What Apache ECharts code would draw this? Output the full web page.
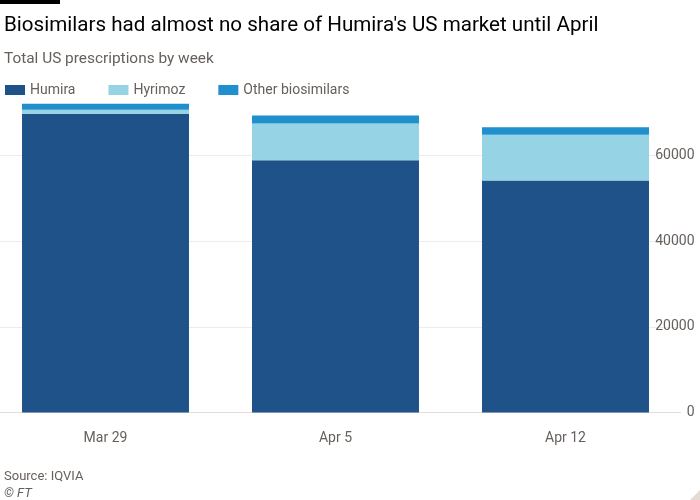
<!DOCTYPE html>
<html><head><meta charset="utf-8">
<script src="https://cdn.jsdelivr.net/npm/echarts@6/dist/echarts.min.js"></script>
<style>html,body{margin:0;padding:0;background:#fff}#c{width:700px;height:500px}</style>
</head><body><div id="c"></div>
<script>
const categories = ['Mar 29', 'Apr 5', 'Apr 12'];
const humira = [69800, 58900, 54200];
const hyrimoz = [900, 8600, 10650];
const otherBiosimilars = [1400, 1900, 1800];
const yTicks = [0, 20000, 40000, 60000];

const FONT = 'Roboto, "Open Sans", sans-serif';
const chart = echarts.init(document.getElementById('c'), null, {renderer: 'canvas'});
const colors = ['#1f5289', '#96d3e5', '#1f8fce'];
chart.setOption({
  animation: false,
  backgroundColor: '#fff',
  textStyle: {fontFamily: FONT},
  title: [
    {text: "Biosimilars had almost no share of Humira's US market until April", left: -1, top: 10,
     textStyle: {fontSize: 20.6, fontWeight: 'normal', color: '#000', fontFamily: FONT}},
    {text: 'Total US prescriptions by week', left: -1, top: 47,
     textStyle: {fontSize: 15.4, fontWeight: 'normal', color: '#66605c', fontFamily: FONT}},
    {text: 'Source: IQVIA', left: -1, top: 465,
     textStyle: {fontSize: 13, fontWeight: 'normal', color: '#66605c', fontFamily: FONT}},
    {text: '© FT', left: -1, top: 482,
     textStyle: {fontSize: 13, fontWeight: 'normal', fontStyle: 'italic', color: '#66605c', fontFamily: FONT}}
  ],
  legend: {
    left: 0, top: 78, itemWidth: 20, itemHeight: 10, itemGap: 33, icon: 'rect',
    textStyle: {fontSize: 14, color: '#66605c', fontFamily: FONT},
    data: ['Humira', 'Hyrimoz', 'Other biosimilars']
  },
  graphic: [
    {type: 'rect', shape: {x: 0, y: 0, width: 60, height: 4}, style: {fill: '#000'}},
    {type: 'polygon', shape: {points: [[700, 490], [700, 500], [690, 500]]}, style: {fill: '#e3dcd5'}}
  ],
  grid: {left: -9.5, width: 690, top: 70, height: 342.5, outerBoundsMode: 'none', containLabel: false},
  xAxis: {
    type: 'category', data: categories,
    axisLine: {lineStyle: {color: '#e6dcd3', width: 1}},
    axisTick: {alignWithLabel: true, length: 8, lineStyle: {color: '#d9cfc6'}},
    axisLabel: {fontSize: 14, color: '#66605c', margin: 19, fontFamily: FONT}
  },
  yAxis: {
    type: 'value', position: 'right', offset: -28, min: 0, max: 80000, interval: 20000,
    axisLine: {show: false}, axisTick: {show: false},
    axisLabel: {fontSize: 14, color: '#66605c', align: 'right', margin: 42, showMaxLabel: false, fontFamily: FONT,
      formatter: v => yTicks.includes(v) ? String(v) : ''},
    splitLine: {lineStyle: {color: ['#f0ebe6', '#f0ebe6', '#f0ebe6', '#f0ebe6', 'rgba(0,0,0,0)'], width: 1}}
  },
  series: [
    {name: 'Humira', type: 'bar', stack: 's', data: humira, barCategoryGap: '27.4%', itemStyle: {color: colors[0]}},
    {name: 'Hyrimoz', type: 'bar', stack: 's', data: hyrimoz, itemStyle: {color: colors[1]}},
    {name: 'Other biosimilars', type: 'bar', stack: 's', data: otherBiosimilars, itemStyle: {color: colors[2]}}
  ]
});
</script></body></html>
